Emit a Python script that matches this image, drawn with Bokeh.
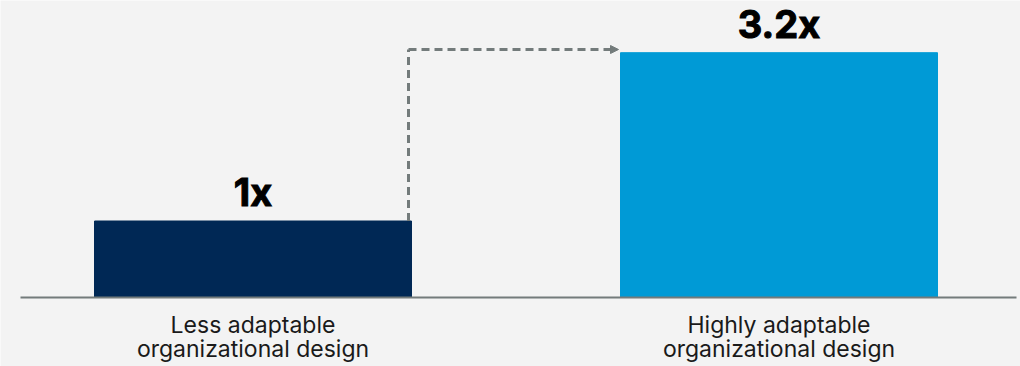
from bokeh.plotting import figure
from bokeh.models import Range1d, ColumnDataSource, Arrow, NormalHead
from bokeh.core.properties import value
from bokeh.embed import file_html
from bokeh.resources import INLINE

categories = ["Less adaptable\norganizational design", "Highly adaptable\norganizational design"]
values = [1.0, 3.2]
value_labels = ["1x", "3.2x"]
colors = ["#002855", "#009ad6"]

W, H = 1020, 366
px_x = 526.0   # pixels per category step
px_y = 76.5    # pixels per unit value
x0_px = 252.5
base_px = 297.0

p = figure(width=W, height=H, output_backend="svg", toolbar_location=None,
           x_range=Range1d(-x0_px / px_x, (W - x0_px) / px_x),
           y_range=Range1d(-(H - base_px) / px_y, base_px / px_y),
           min_border=0, outline_line_color=None)
p.axis.visible = False
p.grid.visible = False
p.background_fill_color = "#f3f3f3"
p.border_fill_color = "#f3f3f3"

xs = list(range(len(categories)))
line1 = [c.split("\n")[0] for c in categories]
line2 = [c.split("\n")[1] for c in categories]
src = ColumnDataSource(dict(x=xs, top=values, color=colors, lab=value_labels,
                            l1=line1, l2=line2))
bw = 317 / px_x
p.vbar(x="x", top="top", bottom=0, width=bw, color="color", source=src)

# baseline
p.segment(x0=[(20 - x0_px) / px_x], x1=[(1016 - x0_px) / px_x], y0=[0], y1=[0],
          line_color="#737b7b", line_width=2)

# value labels
p.text(x="x", y="top", text="lab", source=src, text_align="center",
       text_baseline="bottom", y_offset=-6, text_font=value("Inter"),
       text_font_style="bold", text_font_size="38px", text_color="#000000",
       text_outline_color="#000000")

# category labels
for col, off in (("l1", 13), ("l2", 37)):
    p.text(x="x", y=0, text=col, source=src, text_align="center",
           text_baseline="top", y_offset=off, text_font=value("Inter"),
           text_font_size="23px", text_color="#1a1a1a")

# dashed arrow
xa = xs[0] + bw / 2 - 3 / px_x
xb = xs[1] - bw / 2 - 2 / px_x
ytop = (base_px - 49) / px_y
p.segment(x0=[xa], x1=[xa], y0=[values[0]], y1=[ytop], line_color="#737b7b",
          line_width=3, line_dash="8 5")
p.add_layout(Arrow(x_start=xa, y_start=ytop, x_end=xb, y_end=ytop,
                   line_color="#737b7b", line_width=3, line_dash="8 5",
                   end=NormalHead(size=8, fill_color="#737b7b", line_color="#737b7b",
                                  line_width=1)))

open("out.html", "w").write(file_html(p, INLINE))
